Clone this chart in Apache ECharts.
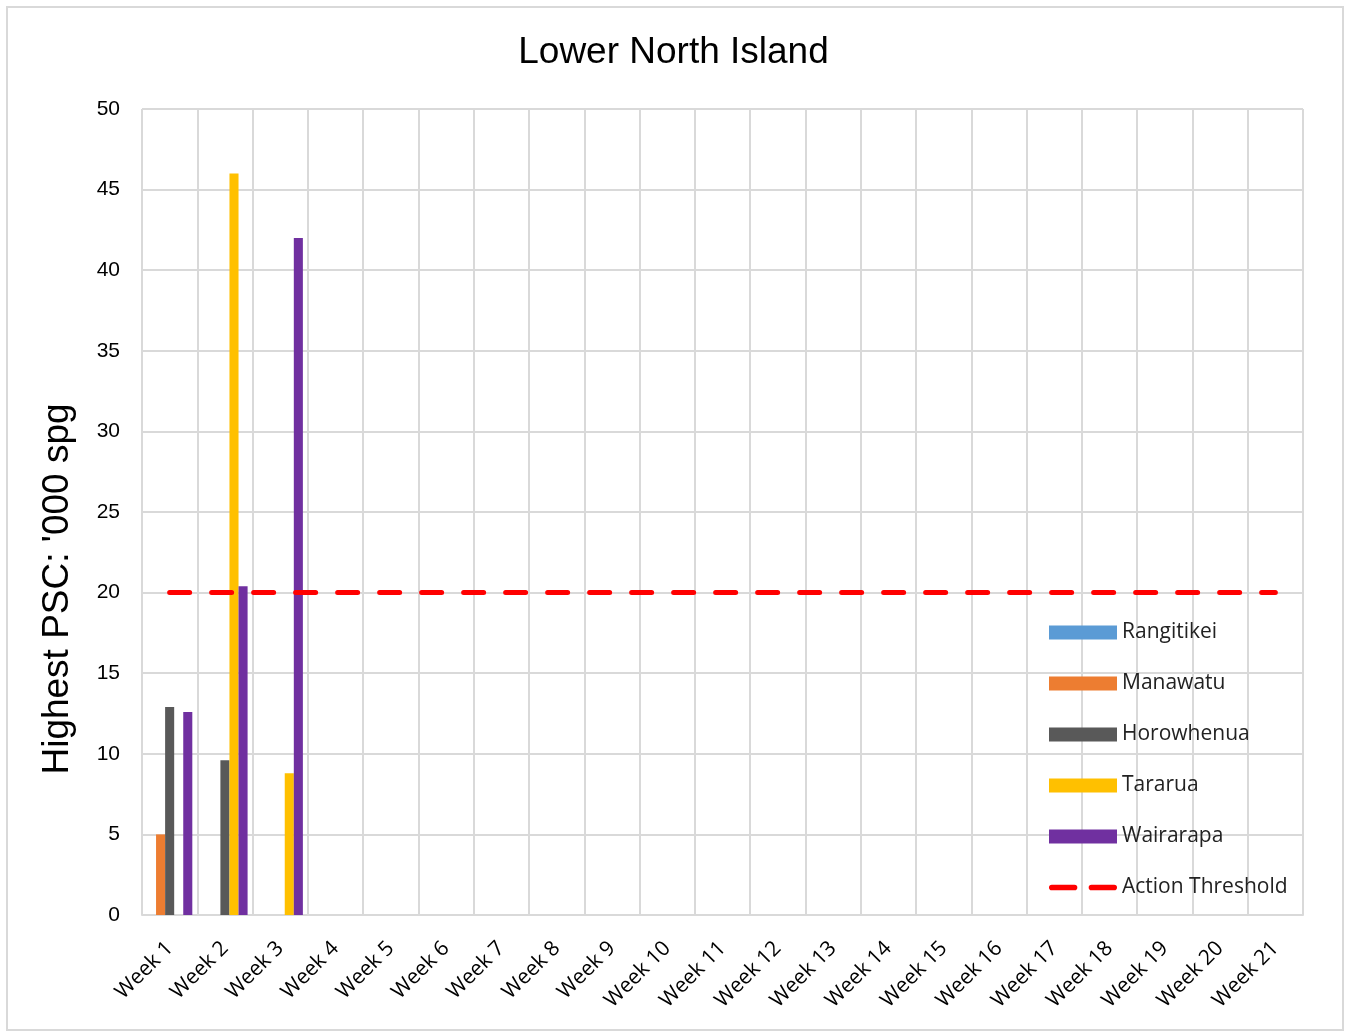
<!DOCTYPE html>
<html>
<head>
<meta charset="utf-8">
<script src="https://cdn.jsdelivr.net/npm/echarts@6/dist/echarts.min.js"></script>
<style>
html,body{margin:0;padding:0;background:#fff;}
#c{width:1347px;height:1035px;}
</style>
</head>
<body>
<div id="c"></div>
<script>
const weeks = ['Week 1','Week 2','Week 3','Week 4','Week 5','Week 6','Week 7','Week 8','Week 9','Week 10','Week 11','Week 12','Week 13','Week 14','Week 15','Week 16','Week 17','Week 18','Week 19','Week 20','Week 21'];
const rangitikei = [null, null, null];
const manawatu = [5, null, null];
const horowhenua = [12.9, 9.6, null];
const tararua = [null, 46, 8.8];
const wairarapa = [12.6, 20.4, 42];
const threshold = [20,20,20,20,20,20,20,20,20,20,20,20,20,20,20,20,20,20,20,20,20];
const yTicks = [0, 50, 5];

const chart = echarts.init(document.getElementById('c'));
const barCommon = {type:'bar', barGap:'0%', barCategoryGap:'18%'};
const dashIcon = 'path://M0,0h0.05v0.05h-0.05z M68,14h-0.05v-0.05h0.05z M0,4h24a3,3 0 0 1 0,6h-24a3,3 0 0 1 0,-6z M42,4h24a3,3 0 0 1 0,6h-24a3,3 0 0 1 0,-6z';
chart.setOption({
  animation:false,
  backgroundColor:'#fff',
  title:{text:'Lower North Island', left:'center', top:29,
    textStyle:{fontFamily:'Liberation Sans', fontSize:37, fontWeight:'normal', color:'#000'}},
  grid:{left:142, right:44, top:109, bottom:120},
  legend:{orient:'vertical', left:1044, top:617, itemGap:30, itemWidth:68, itemHeight:14,
    textStyle:{fontFamily:'Open Sans', fontSize:21, color:'#222'},
    data:[
      {name:'Rangitikei', icon:'rect'},
      {name:'Manawatu', icon:'rect'},
      {name:'Horowhenua', icon:'rect'},
      {name:'Tararua', icon:'rect'},
      {name:'Wairarapa', icon:'rect'},
      {name:'Action Threshold', icon:dashIcon, itemStyle:{color:'#ff0000'}}
    ]},
  xAxis:{type:'category', data:weeks, boundaryGap:true,
    axisLine:{lineStyle:{color:'#d9d9d9', width:2}},
    axisTick:{show:false},
    splitLine:{show:true, lineStyle:{color:'#d9d9d9', width:2}},
    axisLabel:{rotate:45, interval:0, margin:30, fontFamily:'Open Sans', fontSize:21, color:'#000'}},
  yAxis:{type:'value', min:yTicks[0], max:yTicks[1], interval:yTicks[2],
    axisLine:{show:false}, axisTick:{show:false},
    splitLine:{lineStyle:{color:'#d9d9d9', width:2}},
    axisLabel:{margin:22, fontFamily:'Liberation Sans', fontSize:21, color:'#000'}},
  graphic:[
    {type:'rect', shape:{x:7, y:7, width:1336, height:1023}, style:{fill:'none', stroke:'#d9d9d9', lineWidth:2}, z:-1},
    {type:'text', x:58, y:589, rotation:Math.PI/2,
      style:{text:"Highest PSC: '000 spg", font:'37px "Liberation Sans"', fill:'#000', textAlign:'center', textVerticalAlign:'middle'}}
  ],
  series:[
    Object.assign({name:'Rangitikei', data:rangitikei, itemStyle:{color:'#5b9bd5'}}, barCommon),
    Object.assign({name:'Manawatu', data:manawatu, itemStyle:{color:'#ed7d31'}}, barCommon),
    Object.assign({name:'Horowhenua', data:horowhenua, itemStyle:{color:'#595959'}}, barCommon),
    Object.assign({name:'Tararua', data:tararua, itemStyle:{color:'#ffc000'}}, barCommon),
    Object.assign({name:'Wairarapa', data:wairarapa, itemStyle:{color:'#7030a0'}}, barCommon),
    {name:'Action Threshold', type:'line', data:threshold, symbol:'none', z:5,
      itemStyle:{color:'#ff0000'},
      lineStyle:{color:'#ff0000', width:5, type:[20,22], cap:'round'}}
  ]
});
</script>
</body>
</html>
